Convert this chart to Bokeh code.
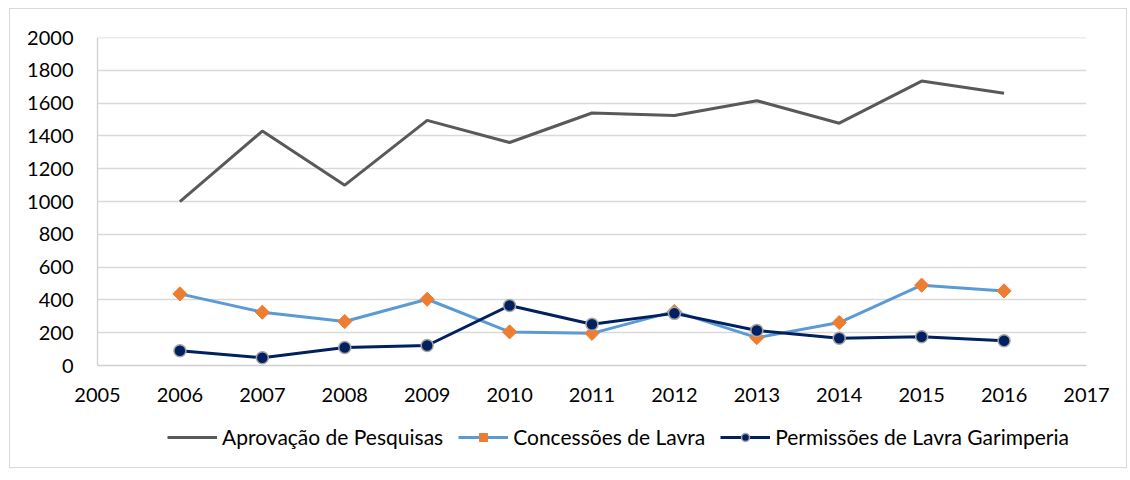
from bokeh.plotting import figure
from bokeh.models import Legend, LegendItem, FixedTicker, Range1d
from bokeh.layouts import column
from bokeh.embed import file_html
from bokeh.resources import INLINE

years = [2006, 2007, 2008, 2009, 2010, 2011, 2012, 2013, 2014, 2015, 2016]
aprovacao = [1000, 1430, 1100, 1495, 1360, 1540, 1525, 1615, 1478, 1735, 1660]
concessoes = [437, 325, 268, 404, 205, 196, 330, 170, 262, 490, 455]
permissoes = [90, 47, 110, 122, 366, 252, 318, 213, 166, 175, 151]
series_names = ["Aprovação de Pesquisas", "Concessões de Lavra", "Permissões de Lavra Garimperia"]
x_ticks = list(range(2005, 2018))
y_ticks = list(range(0, 2001, 200))

FONT = "Lato"
C_APR, C_CON, C_CON_M, C_PER, C_PER_EDGE = "#595959", "#5B9BD5", "#ED7D31", "#002060", "#A5A5A5"

p = figure(frame_width=989, frame_height=328, output_backend="svg", toolbar_location=None,
           x_range=Range1d(2005, 2017), y_range=Range1d(0, 2000.6),
           min_border_left=87, min_border_right=40, min_border_top=28,
           min_border_bottom=44)

p.outline_line_color = None
p.xgrid.grid_line_color = None
p.ygrid.grid_line_color = "#d9d9d9"
p.ygrid.grid_line_width = 1.3
p.xaxis.ticker = FixedTicker(ticks=x_ticks)
p.yaxis.ticker = FixedTicker(ticks=y_ticks)
for ax in (p.xaxis[0], p.yaxis[0]):
    ax.axis_line_color = "#d0d0d0"
    ax.axis_line_width = 1.3
    ax.major_tick_line_color = None
    ax.minor_tick_line_color = None
    ax.major_label_text_font = FONT
    ax.major_label_text_font_size = "20px"
    ax.major_label_text_color = "#000000"
p.xaxis.major_label_standoff = 16
p.yaxis.major_label_standoff = 18

p.line(years, aprovacao, line_color=C_APR, line_width=3)
p.line(years, concessoes, line_color=C_CON, line_width=3)
p.scatter(years, concessoes, marker="square", angle=0.785398, size=10,
          fill_color=C_CON_M, line_color=C_CON_M)
p.line(years, permissoes, line_color=C_PER, line_width=3)
p.scatter(years, permissoes, marker="circle", size=12, fill_color=C_PER,
          line_color=C_PER_EDGE, line_width=1.5)

# legend strip below the chart; its key renderers carry the same series,
# outside the strip's (0..1) view so only the legend keys show
lg = figure(width=1116, height=58, output_backend="svg", toolbar_location=None,
            x_range=Range1d(0, 1), y_range=Range1d(0, 1),
            x_axis_type=None, y_axis_type=None,
            min_border_left=0, min_border_right=0, min_border_top=0, min_border_bottom=0)
lg.outline_line_color = None
k1 = lg.line(years, aprovacao, line_color=C_APR, line_width=3)
k2 = lg.line(years, concessoes, line_color=C_CON, line_width=3)
k2m = lg.scatter(years, concessoes, marker="square", angle=0.785398, size=10,
                 fill_color=C_CON_M, line_color=C_CON_M)
k3 = lg.line(years, permissoes, line_color=C_PER, line_width=3)
k3m = lg.scatter(years, permissoes, marker="circle", size=12, fill_color=C_PER,
                 line_color=C_PER_EDGE, line_width=1.5)

legend = Legend(items=[
    LegendItem(label=series_names[0], renderers=[k1]),
    LegendItem(label=series_names[1], renderers=[k2, k2m]),
    LegendItem(label=series_names[2], renderers=[k3, k3m]),
], orientation="horizontal", location=(70, 18),
    label_text_font=FONT, label_text_font_size="21px", label_text_color="#000000",
    glyph_width=50, glyph_height=20, label_standoff=5, spacing=15, border_line_color=None,
    background_fill_alpha=0, margin=0, padding=0)
lg.add_layout(legend, "center")

layout = column(p, lg, spacing=0,
                styles={"border": "1px solid #d9d9d9", "margin": "8px 0 0 9px"})

open("out.html", "w").write(file_html(layout, INLINE))
